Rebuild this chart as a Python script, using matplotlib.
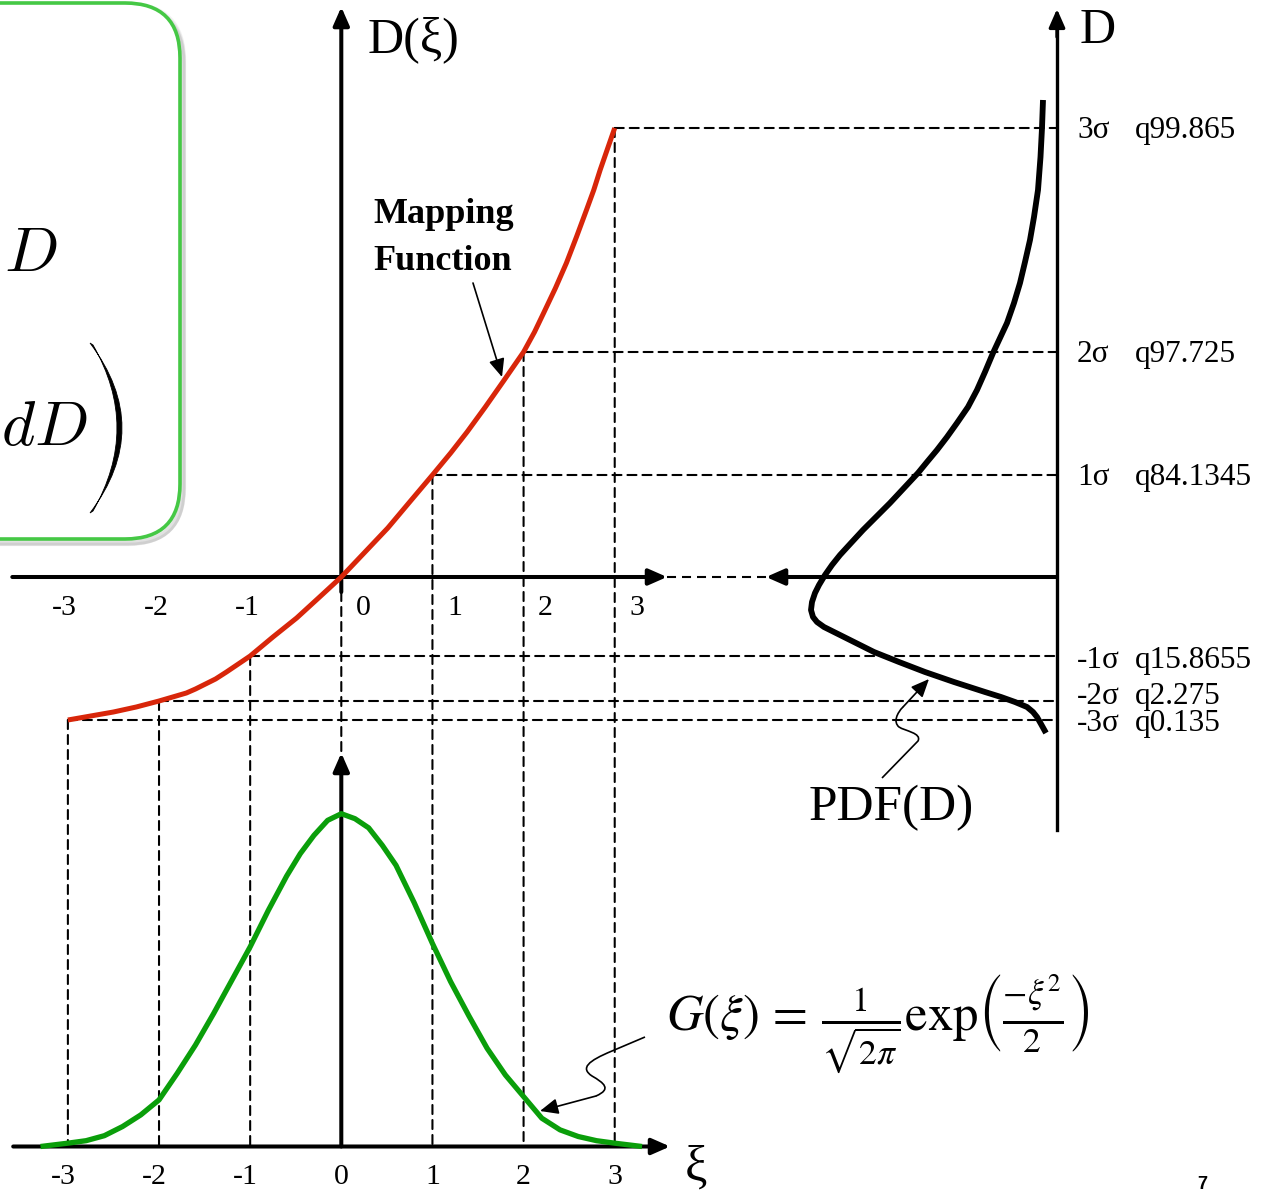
import matplotlib.pyplot as plt
from matplotlib.patches import ConnectionPatch, FancyBboxPatch, PathPatch
from matplotlib.path import Path

plt.rcParams['font.family'] = ['Liberation Serif', 'DejaVu Serif']
plt.rcParams['mathtext.fontset'] = 'stix'
plt.rcParams['lines.scale_dashes'] = False

# reference levels: standard normal ticks and the D value each one maps to
xi_ticks = [-3, -2, -1, 0, 1, 2, 3]
d_levels = [-1.43, -1.24, -0.79, 0.0, 1.02, 2.25, 4.49]
sigma_labels = ['-3σ', '-2σ', '-1σ', '', '1σ', '2σ', '3σ']
quantile_labels = ['q0.135', 'q2.275', 'q15.8655', '', 'q84.1345', 'q97.725', 'q99.865']

# mapping function D(xi)
map_xi = [-3.0, -2.75, -2.5, -2.25, -2.0, -1.85, -1.7, -1.6, -1.49, -1.38, -1.26, -1.13,
          -1.0, -0.75, -0.49, -0.25, 0.0, 0.25, 0.51, 0.75, 1.0, 1.2, 1.38, 1.58, 1.78,
          2.0, 2.12, 2.22, 2.35, 2.47, 2.58, 2.69, 2.77, 2.84, 2.92, 3.0]
map_d = [-1.43, -1.39, -1.35, -1.30, -1.24, -1.20, -1.16, -1.12, -1.07, -1.02, -0.95, -0.87,
         -0.79, -0.60, -0.41, -0.21, 0.0, 0.24, 0.49, 0.75, 1.02, 1.24, 1.45, 1.70, 1.96,
         2.25, 2.45, 2.64, 2.89, 3.14, 3.40, 3.67, 3.87, 4.07, 4.28, 4.49]

# PDF(D), drawn sideways against the D axis
pdf_d = [4.77, 4.49, 4.2, 3.87, 3.6, 3.37, 3.15, 2.94, 2.74, 2.54, 2.24, 2.05, 1.87, 1.7,
         1.54, 1.4, 1.27, 1.15, 1.04, 0.89, 0.74, 0.6, 0.47, 0.34, 0.22, 0.12, 0.02, -0.08,
         -0.16, -0.25, -0.33, -0.40, -0.45, -0.50, -0.55, -0.65, -0.75, -0.85, -0.95, -1.05,
         -1.15, -1.2, -1.25, -1.3, -1.35, -1.4, -1.47, -1.56]
pdf_val = [0.14, 0.15, 0.165, 0.19, 0.23, 0.27, 0.32, 0.37, 0.43, 0.50, 0.64, 0.72, 0.80, 0.89,
           1.00, 1.10, 1.20, 1.30, 1.39, 1.53, 1.67, 1.81, 1.94, 2.06, 2.17, 2.25, 2.32, 2.38,
           2.42, 2.45, 2.46, 2.44, 2.40, 2.33, 2.23, 2.03, 1.83, 1.58, 1.32, 1.03,
           0.72, 0.56, 0.42, 0.30, 0.24, 0.20, 0.16, 0.11]

# Gaussian G(xi)
g_xi = [-3.3, -3.0, -2.8, -2.6, -2.4, -2.2, -2.0, -1.8, -1.6, -1.4, -1.2, -1.0, -0.8, -0.6,
        -0.45, -0.3, -0.15, 0.0, 0.15, 0.3, 0.45, 0.6, 0.8, 1.0, 1.2, 1.4, 1.6, 1.8, 2.0,
        2.2, 2.4, 2.6, 2.8, 3.0, 3.3]
g_val = [0.0, 0.004, 0.007, 0.013, 0.024, 0.038, 0.056, 0.088, 0.122, 0.160, 0.200, 0.240,
         0.284, 0.325, 0.352, 0.374, 0.392, 0.400, 0.394, 0.383, 0.362, 0.338, 0.293, 0.244,
         0.198, 0.157, 0.118, 0.086, 0.060, 0.034, 0.020, 0.012, 0.007, 0.004, 0.0]

W, H = 1273, 1194
fig = plt.figure(figsize=(W / 100, H / 100), dpi=100)

# where each coordinate system sits on the page (pixels)
XI0, XI_PX = 341.3, 91.14     # xi = 0 column, pixels per xi unit
D0, D_PX = 577.0, 100.0       # D = 0 row, pixels per D unit
G0, G_PX = 1146.5, 832.0      # G = 0 row of the lower plot, pixels per G unit
DAX = 1057.0                  # column of the right-hand D axis


def full_axes():
    a = fig.add_axes([0, 0, 1, 1])
    a.set_axis_off()
    a.patch.set_visible(False)
    return a


ax = full_axes()    # xi across, D up
ax.set_xlim(-XI0 / XI_PX, (W - XI0) / XI_PX)
ax.set_ylim((D0 - H) / D_PX, D0 / D_PX)

axg = full_axes()   # xi across, G up
axg.set_xlim(ax.get_xlim())
axg.set_ylim((G0 - H) / G_PX, G0 / G_PX)

axp = full_axes()   # PDF growing leftwards, D up
axp.set_xlim(DAX / D_PX, (DAX - W) / D_PX)
axp.set_ylim(ax.get_ylim())

pix = full_axes()   # page pixels, for notes
pix.set_xlim(0, W)
pix.set_ylim(H, 0)


def arrow(a, start, tip, lw=2.9, scale=22, hl=0.5, hw=0.22, z=3):
    a.annotate('', xy=tip, xytext=start, zorder=z,
               arrowprops=dict(arrowstyle=f'-|>,head_length={hl},head_width={hw}',
                               mutation_scale=scale, lw=lw, color='black',
                               shrinkA=0, shrinkB=0))


dash = dict(color='black', lw=1.5, linestyle=(0, (6.5, 4.3)), zorder=-1)

# guide lines from the mapping curve to both distributions
for xi, d in zip(xi_ticks, d_levels):
    if xi == 0:
        fig.add_artist(ConnectionPatch((0, 0), (0, 0.473), 'data', 'data',
                                       axesA=ax, axesB=axg, **dash))
        continue
    fig.add_artist(ConnectionPatch((xi, d), (0, d), 'data', 'data',
                                   axesA=ax, axesB=axp, **dash))
    fig.add_artist(ConnectionPatch((xi, d), (xi, 0), 'data', 'data',
                                   axesA=ax, axesB=axg, **dash))

# axes of the mapping plot
arrow(ax, (-3.61, 0), (3.574, 0))
arrow(ax, (0, -0.15), (0, 5.70))
ax.plot([3.574, 4.66], [0, 0], color='black', lw=1.5, dashes=(6.5, 4.3))
# right-hand D axis and the arrow coming back from it
axp.plot([0, 0], [-2.53, 5.5], color='black', lw=2.4)
arrow(axp, (0, 5.4), (0, 5.68), lw=2.4)
arrow(axp, (0, 0), (2.91, 0), lw=2.9)
# axes of the Gaussian plot
arrow(axg, (-3.60, 0), (3.607, 0))
arrow(axg, (0, 0), (0, 0.473))

# the three curves
ax.plot(map_xi, map_d, color='#d8260a', lw=3.6, solid_joinstyle='round',
        solid_capstyle='butt', zorder=5)
axp.plot(pdf_val, pdf_d, color='black', lw=4.2, solid_joinstyle='round',
         solid_capstyle='butt', zorder=5)
axg.plot(g_xi, g_val, color='#0a9e0a', lw=3.8, solid_joinstyle='round',
         solid_capstyle='butt', zorder=5)

# tick labels
for xi in xi_ticks:
    off = -0.035 if xi < 0 else 0.24
    ax.text(xi + off, -0.31, str(xi), fontsize=21.5, ha='center', va='center')
    axg.text(xi - (0.055 if xi < 0 else 0), -0.0367, str(xi), fontsize=21.5,
             ha='center', va='center')

nudge = {-2: 0.07, -1: -0.02, -3: -0.01}
for xi, d, s, q in zip(xi_ticks, d_levels, sigma_labels, quantile_labels):
    if not s:
        continue
    y = d - 0.10 + nudge.get(xi, 0)
    axp.text(-0.20, y, s, fontsize=22.5, ha='left', va='baseline')
    axp.text(-0.78, y, q, fontsize=22.5, ha='left', va='baseline')

# axis names and notes
pix.text(368, 40, 'D(ξ)', fontsize=36, ha='left', va='center')
pix.text(1080, 31, 'D', fontsize=36, ha='left', va='center')
pix.text(696, 1168, 'ξ', fontsize=36, ha='center', va='center')
pix.text(891, 808, 'PDF(D)', fontsize=37, ha='center', va='center')
pix.text(373, 223, 'Mapping', fontsize=26, weight='bold', ha='left', va='baseline')
pix.text(373, 270, 'Function', fontsize=26, weight='bold', ha='left', va='baseline')
pix.text(666, 1024, r'$G(\xi)\,=\,\frac{1}{\sqrt{2\pi}}\mathrm{exp}\left(\frac{-\xi^{2}}{2}\right)$',
         fontsize=36.5, ha='left', va='center')
pix.text(1202, 1176, '7', family='Liberation Sans', weight='bold', fontsize=13,
         ha='center', va='top')

arrow(pix, (473, 283), (502, 377), lw=1.2, scale=20, hl=0.55, hw=0.24)

pdf_curl = Path([(882, 778), (918, 741), (922, 733), (905, 731), (899, 727),
                 (893, 722), (897, 713), (903, 707)],
                [Path.MOVETO, Path.LINETO, Path.CURVE4, Path.CURVE4, Path.CURVE4,
                 Path.CURVE4, Path.CURVE4, Path.CURVE4])
pix.add_patch(PathPatch(pdf_curl, fc='none', ec='black', lw=1.2))
arrow(pix, (903, 707), (929, 679), lw=1.2, scale=20, hl=0.55, hw=0.24)

g_curl = Path([(645, 1037), (612, 1051), (588, 1061), (580, 1068), (592, 1076),
               (604, 1083), (612, 1089), (596, 1096)],
              [Path.MOVETO, Path.LINETO, Path.CURVE4, Path.CURVE4, Path.CURVE4,
               Path.CURVE4, Path.CURVE4, Path.CURVE4])
pix.add_patch(PathPatch(g_curl, fc='none', ec='black', lw=1.2))
arrow(pix, (596, 1096), (540, 1111), lw=1.2, scale=20, hl=0.55, hw=0.24)

# rounded callout box at the top left with its drop shadow
for k, a in enumerate([0.10, 0.14, 0.18]):
    pix.add_patch(FancyBboxPatch((-58 + k, 6 + k), 240, 536,
                                 boxstyle='round,pad=0,rounding_size=55',
                                 fc='none', ec='#808080', lw=6 - 2 * k, alpha=a, zorder=1))
pix.add_patch(FancyBboxPatch((-60, 3), 240, 536, boxstyle='round,pad=0,rounding_size=55',
                             fc='white', ec='#45c845', lw=2.6, zorder=2))
pix.text(4, 271, '$D$', math_fontfamily='cm', fontsize=46, ha='left', va='baseline', zorder=3)
pix.text(88, 445, '$dD$', math_fontfamily='cm', fontsize=46, ha='right', va='baseline', zorder=3)
paren = Path([(90, 343), (154, 428), (90, 513), (93, 511), (141, 428), (93, 345), (90, 343)],
             [Path.MOVETO, Path.CURVE3, Path.CURVE3, Path.LINETO, Path.CURVE3, Path.CURVE3,
              Path.CLOSEPOLY])
pix.add_patch(PathPatch(paren, fc='black', ec='black', lw=0.6, zorder=3))

fig.savefig('out.png', dpi=100)
